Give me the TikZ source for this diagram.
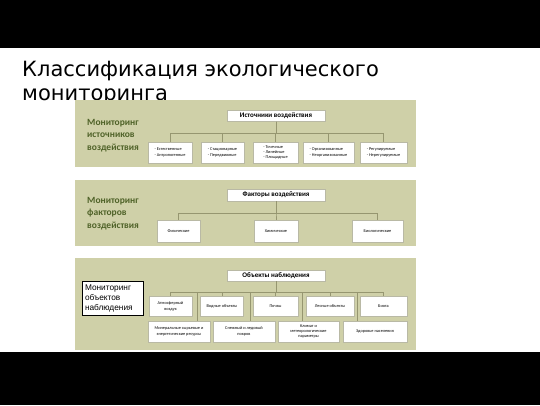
\documentclass[tikz,border=0pt]{standalone}
\usepackage{fontspec}
\setmainfont{Carlito}
\newfontfamily\titlefont{DejaVu Sans}
\newfontfamily\labfont{Liberation Sans}
\usetikzlibrary{positioning}
\definecolor{panelbg}{RGB}{207,208,168}
\definecolor{labgreen}{RGB}{79,98,40}
\definecolor{connline}{RGB}{150,150,112}
\definecolor{boxline}{RGB}{185,185,165}

\begin{document}
\begin{tikzpicture}[x=1pt, y=-1pt,
    panel/.style={fill=panelbg, draw=none},
    head/.style={draw=boxline, fill=white, minimum width=98pt, minimum height=11pt, inner sep=0pt, font=\fontsize{7}{8}\selectfont\bfseries},
    kid/.style={draw=boxline, fill=white, minimum height=21pt, inner sep=1pt, font=\fontsize{4.3}{5.3}\selectfont, align=center},
    sidelab/.style={anchor=north west, inner sep=0pt, align=left, text=labgreen, font=\fontsize{9.5}{12.5}\selectfont\bfseries},
    conn/.style={draw=connline, line width=0.6pt}]
  \useasboundingbox (0,0) rectangle (540,405);
  \fill[white] (0,0) rectangle (540,405);
  \fill[black] (0,0) rectangle (540,48);
  \fill[black] (0,352) rectangle (540,405);

  % title
  \node[anchor=base west, inner sep=0pt, font=\titlefont\fontsize{21}{24}\selectfont] (title) at (22,76) {Классификация экологического};
  \node[anchor=base west, inner sep=0pt, font=\titlefont\fontsize{21}{24}\selectfont] (titleb) at (22,100) {мониторинга};

  % panels
  \fill[panel] (75,100) rectangle (416,167);
  \fill[panel] (75,180) rectangle (416,246);
  \fill[panel] (75,258) rectangle (416,350);

  % sources
  \node[sidelab] (lab1) at (87,119) {Мониторинг\\источников\\воздействия};
  \node[head] (src1) at (276,116) {Источники воздействия};
  \coordinate (bar1) at (276,133);
  \node[kid, align=left, minimum width=44pt] (s1) at (170,152.5) {- Естественные\\- Антропогенные};
  \node[kid, align=left, minimum width=43pt] (s2) at (222.5,152.5) {- Стационарные\\- Передвижные};
  \node[kid, align=left, minimum width=45pt] (s3) at (275.5,152.5) {- Точечные\\- Линейные\\- Площадные};
  \node[kid, align=left, minimum width=51pt] (s4) at (328.5,152.5) {- Организованные\\- Неорганизованные};
  \node[kid, align=left, minimum width=47pt] (s5) at (383.5,152.5) {- Регулируемые\\- Нерегулируемые};
  \foreach \k in {s1,s2,s3,s4,s5}
    \draw[conn] (src1.south) |- (bar1) -| (\k.north);

  % factors
  \node[sidelab] (lab2) at (87,197) {Мониторинг\\факторов\\воздействия};
  \node[head, minimum height=12pt] (src2) at (276,195) {Факторы воздействия};
  \coordinate (bar2) at (276,213);
  \node[kid, minimum width=43pt, minimum height=22pt] (f1) at (178.5,231) {Физические};
  \node[kid, minimum width=44pt, minimum height=22pt] (f2) at (276,231) {Химические};
  \node[kid, minimum width=51pt, minimum height=22pt] (f3) at (377.5,231) {Биологические};
  \foreach \k in {f1,f2,f3}
    \draw[conn] (src2.south) |- (bar2) -| (\k.north);

  % objects
  \node[draw=black, fill=white, line width=0.6pt, minimum width=61pt, minimum height=34pt,
        text width=55pt, align=left, inner sep=3pt,
        font=\labfont\fontsize{8.3}{10}\selectfont] (lab3) at (112.5,298) {Мониторинг\\объектов\\наблюдения};
  \node[head] (src3) at (276,275.5) {Объекты наблюдения};
  \coordinate (bar3) at (276,292);
  \node[kid, minimum width=43pt, minimum height=20pt] (o1) at (170.5,306.5) {Атмосферный\\воздух};
  \node[kid, minimum width=43pt, minimum height=20pt] (o2) at (222,306.5) {Водные объекты};
  \node[kid, minimum width=45pt, minimum height=20pt] (o3) at (275.5,306.5) {Почвы};
  \node[kid, minimum width=48pt, minimum height=20pt] (o4) at (330,306.5) {Лесные объекты};
  \node[kid, minimum width=47pt, minimum height=20pt] (o5) at (383.5,306.5) {Биота};
  \node[kid, minimum width=62pt] (m1) at (179,331.5) {Минеральные сырьевые и\\энергетические ресурсы};
  \node[kid, minimum width=62pt] (m2) at (244,331.5) {Снежный и ледовый\\покров};
  \node[kid, minimum width=61pt] (m3) at (308.5,331.5) {Климат и\\метеорологические\\параметры};
  \node[kid, minimum width=64pt] (m4) at (375,331.5) {Здоровье населения};
  \foreach \k in {o1,o2,o3,o4,o5}
    \draw[conn] (src3.south) |- (bar3) -| (\k.north);
  \coordinate (d1) at (197,292);
  \coordinate (d2) at (250,292);
  \coordinate (d3) at (302,292);
  \coordinate (d4) at (357,292);
  \draw[conn] (d1) -- (d1 |- m1.north);
  \draw[conn] (d2) -- (d2 |- m2.north);
  \draw[conn] (d3) -- (d3 |- m3.north);
  \draw[conn] (d4) -- (d4 |- m4.north);
\end{tikzpicture}
\end{document}
